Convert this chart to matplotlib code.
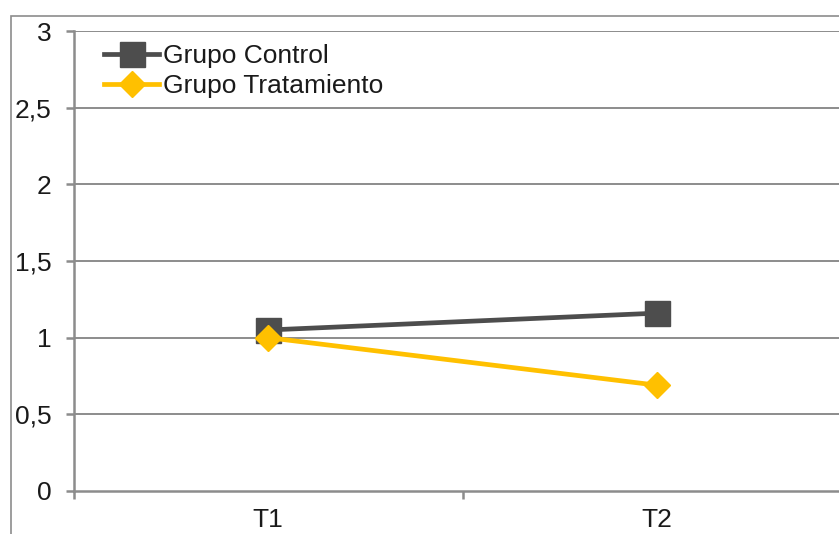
import matplotlib
matplotlib.use("Agg")
import matplotlib.pyplot as plt
from matplotlib.patches import Rectangle
from matplotlib.ticker import FixedLocator, FuncFormatter

plt.rcParams['font.family'] = ['Liberation Sans', 'DejaVu Sans']

# Data
times = ["T1", "T2"]
control = [1.05, 1.16]
tratamiento = [1.0, 0.69]
series_names = ["Grupo Control", "Grupo Tratamiento"]
y_ticks = [0, 0.5, 1, 1.5, 2, 2.5, 3]

W, H = 839, 534
fig = plt.figure(figsize=(W / 100, H / 100), dpi=100)

# Chart area border (extends past right and bottom edges)
fig.patches.append(Rectangle((11 / W, -0.1), 1.2, (H - 16) / H + 0.1,
                             transform=fig.transFigure, fill=False,
                             edgecolor="#8c8c8c", linewidth=1.2))

ax = fig.add_axes([73.5 / W, 43 / H, 778 / W, 460 / H])

x = list(range(1, len(times) + 1))
grid_c = "#8c8c8c"
txt_c = "#1a1a1a"
fs = 19

for y in y_ticks[1:]:
    ax.axhline(y, color=grid_c, linewidth=1.4, zorder=1)

ax.plot(x, control, color="#4d4d4d", linewidth=3.4, marker="s", markersize=18,
        markerfacecolor="#4d4d4d", markeredgecolor="#4d4d4d",
        label=series_names[0], zorder=3)
ax.plot(x, tratamiento, color="#ffc000", linewidth=3.4, marker="D", markersize=13,
        markerfacecolor="#ffc000", markeredgecolor="#ffc000",
        label=series_names[1], zorder=4)

ax.set_xlim(0.5, len(times) + 0.5)
ax.set_ylim(0, 3)

for s in ["top", "right"]:
    ax.spines[s].set_visible(False)
for s in ["left", "bottom"]:
    ax.spines[s].set_color(grid_c)
    ax.spines[s].set_linewidth(1.8)

ax.yaxis.set_major_locator(FixedLocator(y_ticks))
ax.yaxis.set_major_formatter(FuncFormatter(lambda v, p: f"{v:g}".replace(".", ",")))
ax.tick_params(axis="y", length=6, width=1.8, color=grid_c, pad=10,
               labelsize=fs, labelcolor=txt_c)

ax.set_xticks(x)
ax.set_xticklabels(times)
ax.tick_params(axis="x", which="major", length=0, pad=12,
               labelsize=fs, labelcolor=txt_c)
ax.set_xticks([0.5 + i for i in range(len(times) + 1)], minor=True)
ax.tick_params(axis="x", which="minor", length=6, width=1.8, color=grid_c)

leg = ax.legend(loc="upper left", bbox_to_anchor=(0.012, 1.018), frameon=False,
                fontsize=fs, handlelength=2.1, handletextpad=0.12,
                labelspacing=0.25, borderpad=0.3)
for t in leg.get_texts():
    t.set_color(txt_c)

fig.savefig("out.png", dpi=100)
